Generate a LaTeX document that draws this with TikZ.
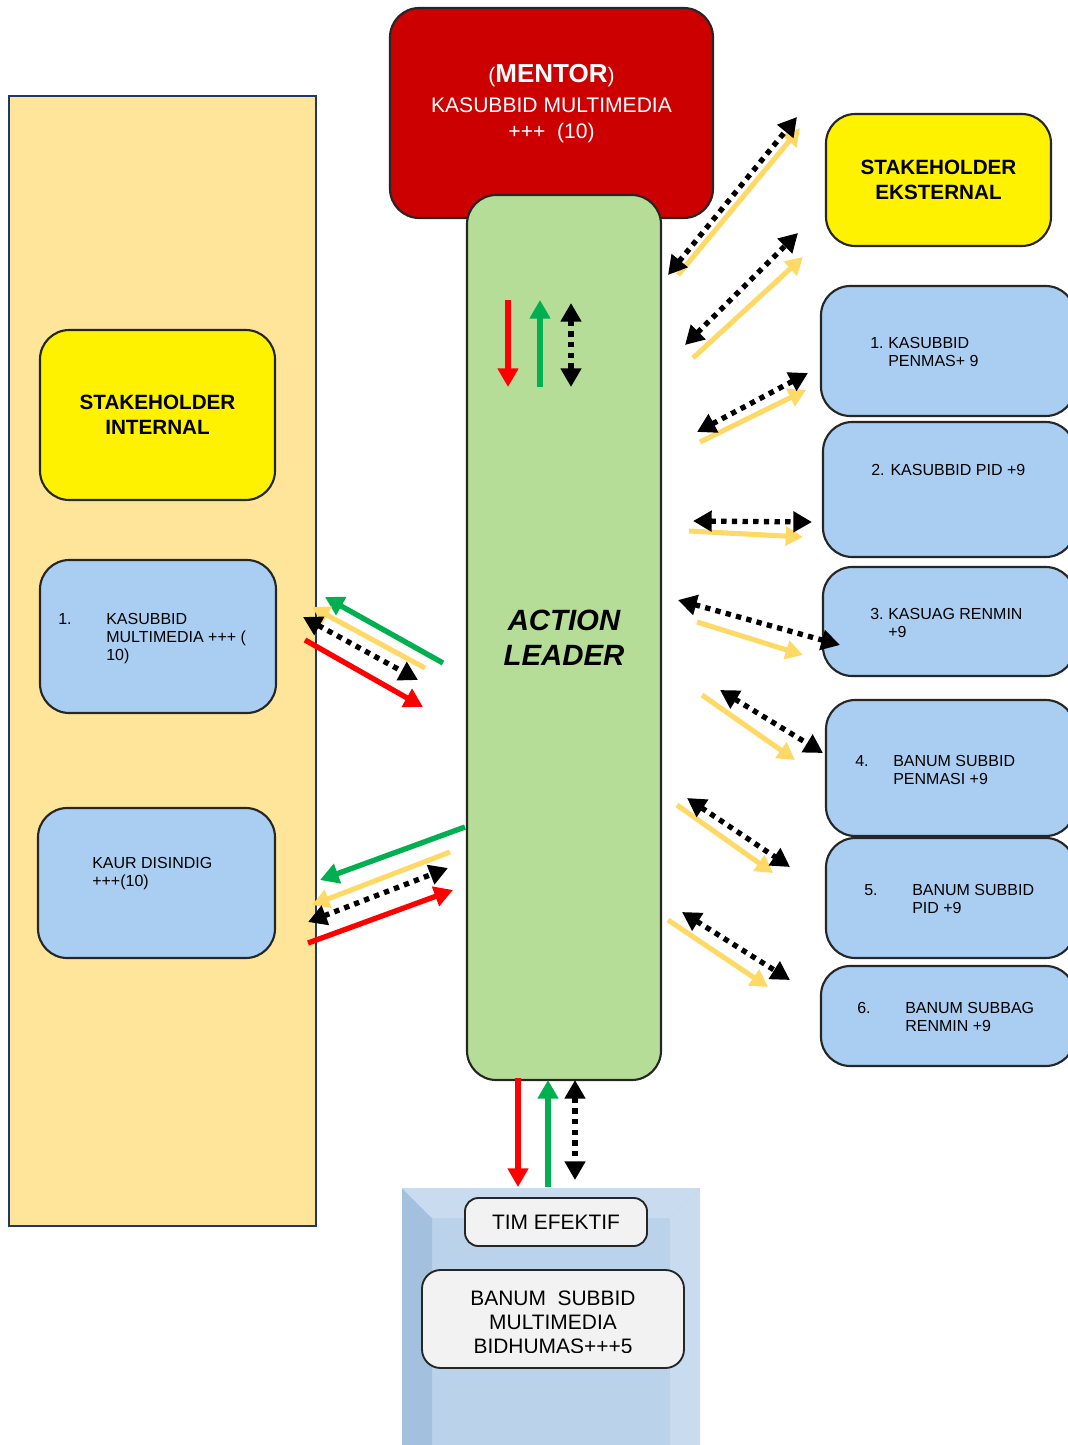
\documentclass[tikz,border=0pt]{standalone}
\usepackage{fontspec}
\setmainfont{Liberation Sans}
\usetikzlibrary{arrows.meta,positioning}
\definecolor{boxblue}{HTML}{A9CEF2}
\definecolor{leadgreen}{HTML}{B5DD98}
\definecolor{mentred}{HTML}{CC0000}
\definecolor{panelyellow}{HTML}{FFE599}
\definecolor{paneledge}{HTML}{1F3864}
\definecolor{panelblue}{HTML}{BAD2EA}
\definecolor{paneldark}{HTML}{A3C0DE}
\definecolor{panellight}{HTML}{C9DCEF}
\definecolor{flowred}{HTML}{FF0000}
\definecolor{flowgreen}{HTML}{00B050}
\definecolor{flowyellow}{HTML}{FFD966}
\definecolor{tagfill}{HTML}{F2F2F2}
\newcommand{\Flow}[4]{\coordinate (#2a) at (#3); \coordinate (#2b) at (#4); \draw[#1] (#2a) -- (#2b);}
\newcommand{\boxentry}[4]{\begin{tabular}[t]{@{}l@{}l@{}}\makebox[#1][l]{#2}&#3\\&#4\end{tabular}}

\begin{document}
\begin{tikzpicture}[x=0.75pt,y=-0.75pt,
  box/.style={rectangle,rounded corners=22pt,draw=black!85,line width=1.6pt,inner sep=0pt},
  bluebox/.style={box,fill=boxblue},
  yellowbox/.style={box,fill=yellow,font=\fontsize{15.5}{18.5}\selectfont\bfseries,align=center},
  tagbox/.style={rectangle,rounded corners=10pt,draw=black!85,line width=1.4pt,fill=tagfill,inner sep=0pt,font=\fontsize{15.7}{18}\selectfont,align=center},
  boxtext/.style={inner sep=0pt,anchor=base west,font=\fontsize{12}{13.8}\selectfont},
  redflow/.style={flowred,line width=4pt,-{Triangle[length=14pt,width=15pt]}},
  greenflow/.style={flowgreen,line width=4pt,-{Triangle[length=14pt,width=15pt]}},
  yellowflow/.style={flowyellow,line width=3.8pt,-{Triangle[length=13pt,width=14pt]}},
  dotflow/.style={black,line width=4pt,dash pattern=on 4pt off 4pt,{Triangle[length=14pt,width=15pt]}-{Triangle[length=14pt,width=15pt]}}]
\useasboundingbox (0,0) rectangle (1067,1445);
\fill[white] (0,0) rectangle (1067,1445);
\draw[fill=panelyellow,draw=paneledge,line width=1pt] (9,96) rectangle (316,1226);
\fill[panelblue] (402,1188) rectangle (700,1445);
\fill[paneldark] (402,1188) -- (432,1218) -- (432,1445) -- (402,1445) -- cycle;
\fill[panellight] (402,1188) -- (700,1188) -- (670,1218) -- (432,1218) -- cycle;
\fill[panellight] (700,1188) -- (700,1445) -- (670,1445) -- (670,1218) -- cycle;
\node[yellowbox,minimum width=176.25pt,minimum height=127.5pt] (internal) at (157.5,415) {STAKEHOLDER\\INTERNAL};
\node[bluebox,minimum width=177pt,minimum height=114.75pt] (multimedia) at (158,636.5) {};
\node[bluebox,minimum width=177.75pt,minimum height=112.5pt] (disindig) at (156.5,883) {};
\node[box,fill=mentred,minimum width=242.25pt,minimum height=157.5pt] (mentor) at (551.5,113) {};
\node[box,fill=leadgreen,minimum width=145.5pt,minimum height=663.75pt,font=\fontsize{22}{26}\selectfont\bfseries\itshape,align=center] (leader) at (564,637.5) {ACTION\\LEADER};
\node[yellowbox,minimum width=168.75pt,minimum height=99pt] (eksternal) at (938.5,180) {STAKEHOLDER\\EKSTERNAL};
\node[bluebox,minimum width=190.5pt,minimum height=97.5pt] (penmas) at (948,351) {};
\node[bluebox,minimum width=189pt,minimum height=101.25pt] (pid) at (949,489.5) {};
\node[bluebox,minimum width=189pt,minimum height=81.75pt] (renmin) at (949,621.5) {};
\node[bluebox,minimum width=186.75pt,minimum height=102pt] (banumpenmasi) at (950.5,768) {};
\node[bluebox,minimum width=186.75pt,minimum height=90pt] (banumpid) at (950.5,898) {};
\node[bluebox,minimum width=190.5pt,minimum height=75pt] (banumrenmin) at (948,1016) {};
\node[tagbox,minimum width=136.5pt,minimum height=36pt] (tim) at (556,1222) {TIM EFEKTIF};
\node[tagbox,rounded corners=14pt,minimum width=196.5pt,minimum height=73.5pt] (banum) at (553,1319) {};
\begin{scope}
\clip (422,1270) rectangle (684,1352);
\node[align=center,inner sep=0pt,font=\fontsize{15.7}{18}\selectfont] (banumtext) at (553,1322) {BANUM\ \ SUBBID\\MULTIMEDIA\\BIDHUMAS+++5};
\end{scope}

\node[white,align=center,font=\fontsize{15.8}{20}\selectfont] (mentortext) at (551.5,104) {(\textbf{\fontsize{19.5}{22}\selectfont MENTOR})\\[2pt]KASUBBID MULTIMEDIA\\+++\ \ (10)};
\node[boxtext] (multimediatext) at (58,624) {\boxentry{36pt}{1.}{KASUBBID}{MULTIMEDIA +++ (\\&10)}};
\node[boxtext] (disindigtext) at (92,868) {\begin{tabular}[t]{@{}l@{}}KAUR DISINDIG\\+++(10)\end{tabular}};
\node[boxtext] (penmastext) at (870,348) {\boxentry{13.5pt}{1.}{KASUBBID}{PENMAS+ 9}};
\node[boxtext] (pidtext) at (871,475) {2. KASUBBID PID +9};
\node[boxtext] (renmintext) at (870,619) {\boxentry{13.5pt}{3.}{KASUAG RENMIN}{+9}};
\node[boxtext] (banumpenmasitext) at (855,766) {\boxentry{28.5pt}{4.}{BANUM SUBBID}{PENMASI +9}};
\node[boxtext] (banumpidtext) at (864,895) {\boxentry{36pt}{5.}{BANUM SUBBID}{PID +9}};
\node[boxtext] (banumrenmintext) at (857,1013) {\boxentry{36pt}{6.}{BANUM SUBBAG}{RENMIN +9}};

\Flow{redflow}{lr}{508,300}{508,387}
\Flow{greenflow}{lg}{540,387}{540,300}
\Flow{dotflow}{ld}{571,303}{571,387}
\Flow{redflow}{br}{518,1078}{518,1187}
\Flow{greenflow}{bg}{548,1187}{548,1080}
\Flow{dotflow}{bd}{575,1080}{575,1180}

\Flow{yellowflow}{e1y}{678,275}{800,128}
\Flow{dotflow}{e1d}{668,275}{797,117}
\Flow{yellowflow}{e2y}{693,358}{803,257}
\Flow{dotflow}{e2d}{685,345}{798,233}
\Flow{yellowflow}{r1y}{700,442}{806,390}
\Flow{dotflow}{r1d}{697,432}{808,373}
\Flow{yellowflow}{r2y}{689,531}{803,537}
\Flow{dotflow}{r2d}{693,521}{812,522}
\Flow{yellowflow}{r3y}{697,622}{803,655}
\Flow{dotflow}{r3d}{678,600}{840,645}
\Flow{yellowflow}{r4y}{702,695}{795,760}
\Flow{dotflow}{r4d}{720,690}{823,753}
\Flow{yellowflow}{r5y}{677,805}{773,873}
\Flow{dotflow}{r5d}{687,798}{790,867}
\Flow{yellowflow}{r6y}{668,920}{768,987}
\Flow{dotflow}{r6d}{682,912}{790,980}

\Flow{greenflow}{m1g}{443,663}{325,597}
\Flow{yellowflow}{m1y}{425,668}{312,607}
\Flow{dotflow}{m1d}{303,617}{418,680}
\Flow{redflow}{m1r}{305,640}{423,707}
\Flow{greenflow}{m2g}{465,827}{320,880}
\Flow{yellowflow}{m2y}{450,852}{312,905}
\Flow{dotflow}{m2d}{308,922}{448,868}
\Flow{redflow}{m2r}{308,943}{453,890}
\end{tikzpicture}
\end{document}
